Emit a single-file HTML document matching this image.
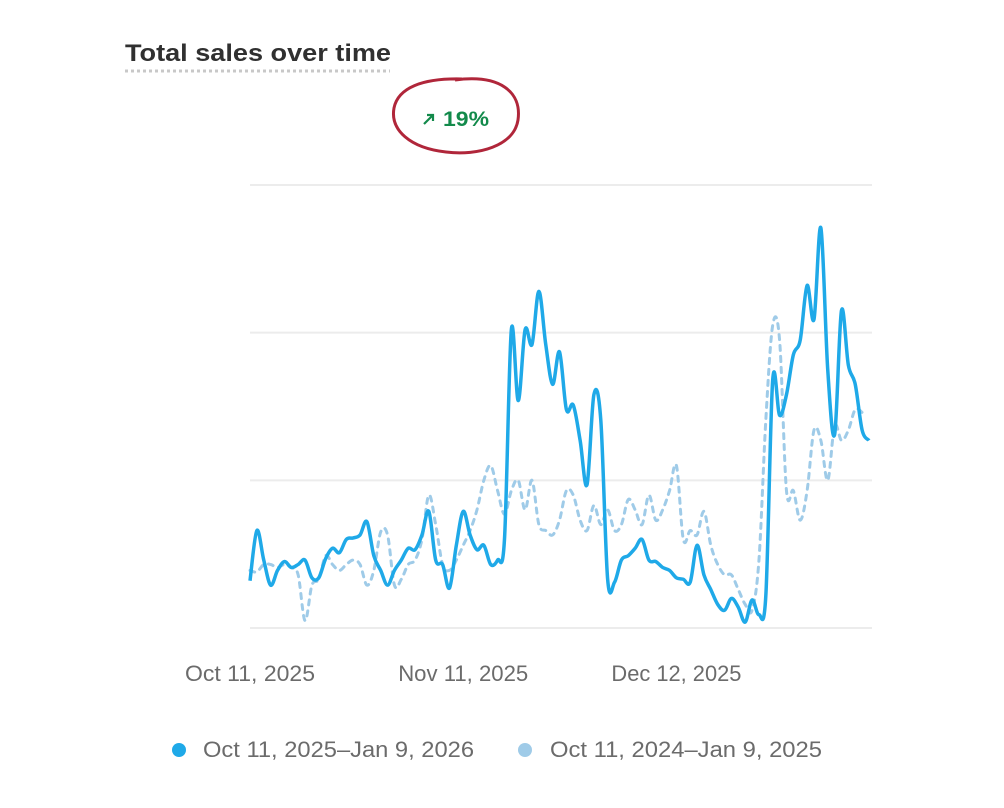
<!DOCTYPE html>
<html><head><meta charset="utf-8"><style>
html,body{margin:0;padding:0;background:#fff;width:1004px;height:808px;overflow:hidden;font-family:"Liberation Sans",sans-serif}
</style></head><body>
<svg width="1004" height="808" id="chart">
<text x="125" y="61" font-size="24" font-weight="bold" fill="#303030" textLength="266" lengthAdjust="spacingAndGlyphs">Total sales over time</text>
<line x1="125" y1="71" x2="390" y2="71" stroke="#c8c8c8" stroke-width="3" stroke-dasharray="3 3"/>
<path d="M455,80 C500,74 522,92 518,120 C514,146 478,156 446,152 C410,148 390,130 394,108 C398,88 422,78 462,79" fill="none" stroke="#b0263a" stroke-width="3"/>
<g>
<path d="M424,124 L433,115 M427,115 L433,115 L433,121" stroke="#138a4b" stroke-width="2.2" fill="none"/>
<text x="443" y="126" font-size="21" font-weight="bold" fill="#138a4b" textLength="46" lengthAdjust="spacingAndGlyphs">19%</text>
</g>
<g id="grid"></g>
<g id="series"></g>
<g id="xlabels"></g>
<g>
<g><circle cx="179" cy="750" r="7" fill="#1fa9e8"/><text x="203" y="757" font-size="22" fill="#6b6b6b" textLength="271" lengthAdjust="spacingAndGlyphs">Oct 11, 2025–Jan 9, 2026</text></g>
<g><circle cx="525" cy="750" r="7" fill="#9fcbe8"/><text x="550" y="757" font-size="22" fill="#6b6b6b" textLength="272" lengthAdjust="spacingAndGlyphs">Oct 11, 2024–Jan 9, 2025</text></g>
</g>
</svg>
<script>
const currentValues=[32,66,46,29,39,45,41,43,46,34,34,47,54,51,60,61,63,72,49,39,29,39,46,54,53,63,79,46,43,27,56,79,63,53,56,43,46,60,202,154,202,192,228,192,165,187,148,151,127,97,158,141,33,31,46,49,54,60,46,45,41,39,34,33,31,56,36,26,16,12,20,14,4,19,9,22,168,144,158,185,195,232,209,271,175,131,215,178,165,134,127];
const previousValues=[39,38,43,43,41,43,41,36,5,29,33,49,43,39,43,46,43,29,39,65,63,29,33,43,46,60,90,70,43,39,46,56,66,80,100,110,93,77,93,100,80,100,70,66,63,73,93,90,73,66,83,70,80,66,70,87,80,70,90,73,80,93,110,60,66,63,79,56,43,36,36,26,16,12,46,141,205,195,93,93,73,93,134,127,100,137,127,134,148,146];
const yTicks=[0,100,200,300];
const xTickLabels=["Oct 11, 2025","Nov 11, 2025","Dec 12, 2025"];
const xTickDays=[0,31,62];
const NS="http://www.w3.org/2000/svg";
const X0=250,X1=869,Y0=628,YTOP=185,YMAX=300,NDAYS=90;
const xs=d=>X0+d*(X1-X0)/NDAYS;
const ys=v=>Y0-v*(Y0-YTOP)/YMAX;
function mk(t,a,p){const e=document.createElementNS(NS,t);for(const k in a)e.setAttribute(k,a[k]);p.appendChild(e);return e;}
const grid=document.getElementById('grid');
yTicks.forEach(v=>{
const l=mk('line',{x1:250,x2:872,y1:ys(v),y2:ys(v),stroke:'#ececec','stroke-width':2},grid);


});
function pathFor(vals){
const p=vals.map((v,i)=>[xs(i),ys(v)]);
let d='M'+p[0][0]+','+p[0][1];
for(let i=0;i<p.length-1;i++){
const a=p[Math.max(i-1,0)],b=p[i],c=p[i+1],e=p[Math.min(i+2,p.length-1)];
const c1=[b[0]+(c[0]-a[0])/6,b[1]+(c[1]-a[1])/6],c2=[c[0]-(e[0]-b[0])/6,c[1]-(e[1]-b[1])/6];
d+=' C'+c1.join(',')+' '+c2.join(',')+' '+c.join(',');
}
return d;}
const s=document.getElementById('series');
const prev=mk('path',{d:pathFor(previousValues),fill:'none',stroke:'#9fcbe8','stroke-width':3,'stroke-dasharray':'5 6','stroke-linecap':'round'},s);


const cur=mk('path',{d:pathFor(currentValues),fill:'none',stroke:'#1fa9e8','stroke-width':3.5,'stroke-linejoin':'round'},s);


const xl=document.getElementById('xlabels');
xTickLabels.forEach((t,i)=>{
const e=mk('text',{x:xs(xTickDays[i])-65,y:681,'font-size':22,fill:'#6b6b6b',textLength:130,lengthAdjust:'spacingAndGlyphs'},xl);
e.textContent=t;


});
</script>
</body></html>
